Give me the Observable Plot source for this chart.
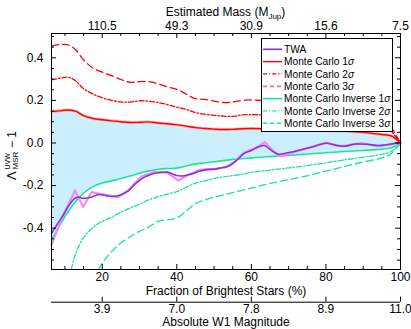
<!DOCTYPE html>
<html><head><meta charset="utf-8">
<script src="https://cdn.jsdelivr.net/npm/d3@7"></script>
<script src="https://cdn.jsdelivr.net/npm/@observablehq/plot@0.6"></script>
<style>
body{margin:0;background:#fff;}
#wrap{position:relative;width:411px;height:329px;font-family:"Liberation Sans",Arial,Helvetica,sans-serif;}
#legend{position:absolute;left:261px;top:38px;width:132px;height:94px;box-sizing:border-box;border:1px solid #000;background:#fff;}
</style></head><body><div id="wrap"><div id="legend"></div></div>
<script>
// ---- data ----
const fracGrid = [6.4,9,11,13,15,17.5,20,22.5,25,27.5,30,32.5,35,37.5,40,42.5,45,47.5,50,52.5,55,57.5,60,62.5,65,70,75,80,85,90,95,97.5,100];
const mc1 = [0.147,0.152,0.155,0.148,0.128,0.115,0.109,0.104,0.100,0.096,0.097,0.099,0.094,0.090,0.085,0.079,0.072,0.068,0.065,0.063,0.064,0.067,0.068,0.067,0.066,0.064,0.061,0.058,0.055,0.050,0.040,0.033,0];
const mc2 = [0.296,0.305,0.308,0.290,0.255,0.230,0.212,0.200,0.193,0.192,0.198,0.196,0.190,0.180,0.168,0.158,0.143,0.135,0.130,0.126,0.125,0.132,0.133,0.132,0.130,0.127,0.123,0.118,0.113,0.105,0.090,0.055,0];
const mc3 = [0.455,0.463,0.460,0.435,0.390,0.352,0.333,0.316,0.298,0.285,0.288,0.288,0.278,0.263,0.252,0.230,0.208,0.205,0.197,0.190,0.192,0.200,0.202,0.200,0.197,0.190,0.185,0.178,0.170,0.160,0.135,0.075,0];
const inv1 = [-0.455,-0.375,-0.318,-0.272,-0.236,-0.205,-0.188,-0.178,-0.167,-0.155,-0.142,-0.131,-0.123,-0.120,-0.118,-0.108,-0.098,-0.093,-0.088,-0.082,-0.077,-0.074,-0.070,-0.067,-0.064,-0.058,-0.052,-0.046,-0.040,-0.035,-0.029,-0.022,0];
const inv2 = [null,null,-0.640,-0.515,-0.445,-0.397,-0.368,-0.348,-0.325,-0.305,-0.287,-0.267,-0.252,-0.240,-0.228,-0.208,-0.188,-0.178,-0.167,-0.159,-0.153,-0.147,-0.138,-0.132,-0.127,-0.117,-0.106,-0.093,-0.079,-0.067,-0.053,-0.040,0];
const inv3 = [null,null,null,null,null,-0.640,-0.565,-0.510,-0.470,-0.440,-0.415,-0.395,-0.368,-0.360,-0.353,-0.320,-0.285,-0.268,-0.255,-0.244,-0.233,-0.222,-0.212,-0.200,-0.190,-0.172,-0.154,-0.132,-0.110,-0.089,-0.070,-0.050,0];

const twaX = [6.4,8,9.5,11,12.5,13.6,15,17,19,21,23,25,27,29,31,33,35,37.5,40,42,44,46,48,50,52,54,56,58,60,62,63.5,65,67,70,73,76,80,82.5,85,88,91,94,97,100];
const twaY = [-0.425,-0.38,-0.34,-0.295,-0.262,-0.254,-0.26,-0.255,-0.242,-0.247,-0.251,-0.243,-0.225,-0.19,-0.164,-0.148,-0.14,-0.137,-0.153,-0.154,-0.145,-0.133,-0.125,-0.123,-0.116,-0.108,-0.083,-0.05,-0.035,-0.018,-0.012,-0.03,-0.052,-0.045,-0.033,-0.02,-0.001,-0.01,-0.015,-0.005,-0.006,-0.012,-0.006,0.002];
const twaRawX = [6.4,9,12.7,14.9,17.1,19,21.6,24.3,27,30.5,34.1,37.5,40.4,43,46.6,50,53,55.5,58,61,63.6,66,68,72,76,80,84,89.5,94,97,100];
const twaRawY = [-0.48,-0.36,-0.223,-0.301,-0.231,-0.238,-0.246,-0.254,-0.222,-0.157,-0.135,-0.14,-0.176,-0.15,-0.125,-0.122,-0.115,-0.088,-0.045,-0.025,0.004,-0.04,-0.063,-0.04,-0.02,0.002,-0.016,0.0,-0.015,-0.008,0.002];

const xMajor = [20,40,60,80,100];
const xMinor = [10,15,25,30,35,45,50,55,65,70,75,85,90,95];
const fracLabels = ["20","40","60","80","100"];
const massLabels = ["110.5","49.3","30.9","15.6","7.5"];
const w1Labels = ["3.9","7.0","7.8","8.9","11.0"];
const yMajor = [0.4,0.2,0,-0.2,-0.4];
const yLabels = ["0.4","0.2","0.0","-0.2","-0.4"];
const yMinor = [0.5,0.45,0.35,0.3,0.25,0.15,0.1,0.05,-0.05,-0.1,-0.15,-0.25,-0.3,-0.35,-0.45,-0.5,-0.55];

const legendLabels = ["TWA","Monte Carlo 1","Monte Carlo 2","Monte Carlo 3","Monte Carlo Inverse 1","Monte Carlo Inverse 2","Monte Carlo Inverse 3"];

// ---- styles ----
const RED = "#ff0000", PURPLE = "#8a30e0", ORCHID = "#f08cf0", GREEN = "#14e69c", FILL = "#ccefff", PINK = "#ffb8b8";
const DASHDOT = "5,2,1.5,2", DASH = "7,4";
const W = 411, H = 329, mL = 51, mR = 11, mT = 33, mB = 60;
const FH = H - mT - mB, FW = W - mL - mR;
const xDomain = [6.4, 100], yDomain = [-0.594, 0.514];
const FONT = "'Liberation Sans', Arial, Helvetica, sans-serif";

const rows = fracGrid.map((x, i) => ({x, mc1: mc1[i], mc2: mc2[i], mc3: mc3[i], inv1: inv1[i], inv2: inv2[i], inv3: inv3[i]}));
const twa = twaX.map((x, i) => ({x, y: twaY[i]}));
const twaRaw = twaRawX.map((x, i) => ({x, y: twaRawY[i]}));
const botTicks = xMajor.map((x, i) => ({x, frac: fracLabels[i], mass: massLabels[i], w1: w1Labels[i]}));
const leftTicks = yMajor.map((y, i) => ({y, label: yLabels[i]}));

const curve = "catmull-rom";
const LA = "middle";
const svg = Plot.plot({
  width: W, height: H, marginLeft: mL, marginRight: mR, marginTop: mT, marginBottom: mB,
  x: {domain: xDomain, axis: null},
  y: {domain: yDomain, axis: null},
  style: {fontFamily: FONT, fontSize: "12px", background: "white", color: "black"},
  marks: [
    Plot.areaY(rows, {x: "x", y1: "inv1", y2: "mc1", fill: FILL, curve}),
    Plot.line(rows, {x: "x", y: "mc1", stroke: PINK, strokeWidth: 3, curve}),
    Plot.line(rows, {x: "x", y: "mc1", stroke: RED, strokeWidth: 1.4, curve}),
    Plot.line(rows, {x: "x", y: "mc2", stroke: RED, strokeWidth: 1.3, strokeDasharray: DASHDOT, curve}),
    Plot.line(rows, {x: "x", y: "mc3", stroke: RED, strokeWidth: 1.3, strokeDasharray: DASH, curve}),
    Plot.line(rows, {x: "x", y: "inv1", stroke: GREEN, strokeWidth: 1.6, curve}),
    Plot.line(rows, {x: "x", y: "inv2", stroke: GREEN, strokeWidth: 1.3, strokeDasharray: DASHDOT, curve, clip: true}),
    Plot.line(rows, {x: "x", y: "inv3", stroke: GREEN, strokeWidth: 1.3, strokeDasharray: DASH, curve, clip: true}),
    Plot.line(twaRaw, {x: "x", y: "y", stroke: ORCHID, strokeWidth: 2.2}),
    Plot.line(twa, {x: "x", y: "y", stroke: PURPLE, strokeWidth: 1.6, curve}),
    Plot.frame({stroke: "black"}),
    // inward ticks
    Plot.ruleX(xMajor, {insetTop: FH - 5, stroke: "black"}),
    Plot.ruleX(xMinor, {insetTop: FH - 3, stroke: "black"}),
    Plot.ruleX(xMajor, {insetBottom: FH - 5, stroke: "black"}),
    Plot.ruleX(xMinor, {insetBottom: FH - 3, stroke: "black"}),
    Plot.ruleY(yMajor, {insetRight: FW - 5, stroke: "black"}),
    Plot.ruleY(yMinor, {insetRight: FW - 3, stroke: "black"}),
    Plot.ruleY(yMajor, {insetLeft: FW - 5, stroke: "black"}),
    Plot.ruleY(yMinor, {insetLeft: FW - 3, stroke: "black"}),
    // tick labels
    Plot.text(botTicks, {x: "x", text: "frac", frameAnchor: "bottom", lineAnchor: LA, dy: 8, fontSize: 12}),
    Plot.text(botTicks, {x: "x", text: "mass", frameAnchor: "top", lineAnchor: LA, dy: -7, fontSize: 12}),
    Plot.text(leftTicks, {y: "y", text: "label", frameAnchor: "left", lineAnchor: LA, textAnchor: "end", dx: -8, fontSize: 12}),
    Plot.text(["Fraction of Brightest Stars (%)"], {frameAnchor: "bottom", lineAnchor: LA, dy: 21.7, fontSize: 12}),
    // secondary magnitude axis
    Plot.ruleY([yDomain[0]], {dy: 32.7, stroke: "black"}),
    Plot.ruleX(xMajor, {insetTop: FH - 5, dy: 32.7, stroke: "black"}),
    Plot.text(botTicks, {x: "x", text: "w1", frameAnchor: "bottom", lineAnchor: LA, dy: 40, fontSize: 12}),
    Plot.text(["Absolute W1 Magnitude"], {frameAnchor: "bottom", lineAnchor: LA, dy: 52.7, fontSize: 12})
  ]
});

const s = d3.select(svg);
// top title with subscript
const t = s.append("text").attr("x", mL + FW / 2).attr("y", 16.3).attr("text-anchor", "middle")
  .attr("font-size", 12).attr("font-family", FONT);
t.append("tspan").text("Estimated Mass (M");
t.append("tspan").attr("font-size", 8).attr("dy", 2.5).text("Jup");
t.append("tspan").attr("dy", -2.5).text(")");
// y-axis title
const g = s.append("g").attr("transform", "translate(15.5,180) rotate(-90)").attr("font-family", FONT).attr("text-anchor", "start");
g.append("text").attr("x", 0).attr("y", 0).attr("font-size", 13).text("Λ");
g.append("text").attr("x", 10.5).attr("y", -6).attr("font-size", 7).text("UVW");
g.append("text").attr("x", 10.5).attr("y", 2.5).attr("font-size", 8).text("MSR");
g.append("text").attr("x", 32).attr("y", 0).attr("font-size", 12).text("\u2212 1");

document.getElementById("wrap").insertBefore(svg, document.getElementById("legend"));
svg.style.position = "absolute"; svg.style.left = "0"; svg.style.top = "0";

// legend
const legStyles = [
  {c: PURPLE, d: null, w: 1.6}, {c: RED, d: null, w: 1.4}, {c: RED, d: "4,2,1.2,2", w: 1.3}, {c: "#ff7070", d: "4,3", w: 1.8},
  {c: GREEN, d: null, w: 1.6}, {c: GREEN, d: "4,2,1.2,2", w: 1.3}, {c: GREEN, d: "4,3", w: 1.6}
];
const lsvg = d3.select("#legend").append("svg").attr("width", 130).attr("height", 92)
  .attr("font-family", FONT).attr("font-size", 10.2);
legendLabels.forEach((lab, i) => {
  const cy = 10.3 + 12.33 * i;
  const st = legStyles[i];
  lsvg.append("line").attr("x1", 1).attr("x2", 20).attr("y1", cy).attr("y2", cy)
    .attr("stroke", st.c).attr("stroke-width", st.w).attr("stroke-dasharray", st.d);
  const tx = lsvg.append("text").attr("x", 22).attr("y", cy + 3.7);
  tx.append("tspan").text(lab);
  if (i > 0) tx.append("tspan").attr("font-style", "italic").text("\u03c3");
});
</script></body></html>
